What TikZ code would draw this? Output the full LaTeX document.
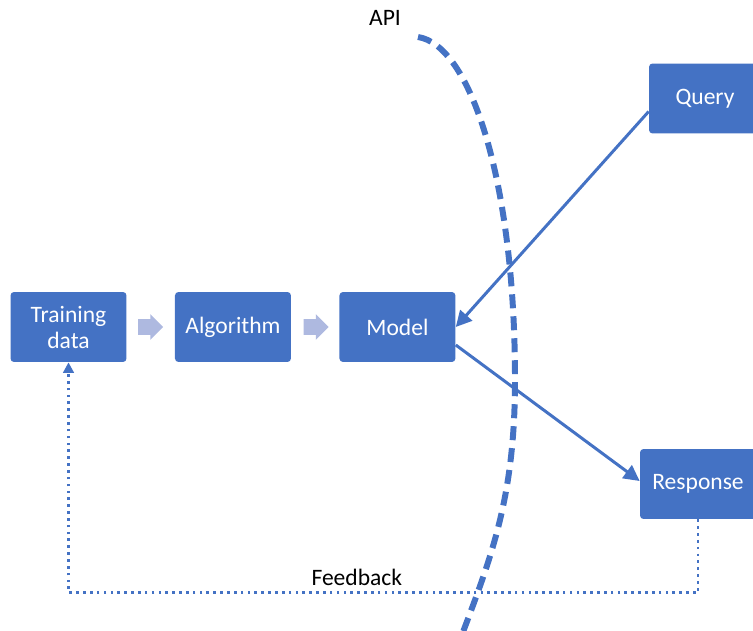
\documentclass[tikz,border=0pt]{standalone}
\usepackage{fontspec}
\setmainfont{Carlito}
\usepackage{tikz}
\usetikzlibrary{shapes,shapes.arrows,arrows.meta}
\usetikzlibrary{positioning}
\definecolor{boxblue}{HTML}{4472C4}
\definecolor{lavender}{HTML}{AEB9E0}
\tikzstyle{arrow} = [line width=1.7pt,draw=boxblue,-{Triangle[length=9pt,width=9pt]}]
\tikzstyle{feedback} = [line width=1.5pt,draw=boxblue,dash pattern=on 1.5pt off 2.4pt,
    -{Triangle[length=6pt,width=6pt]}]
\tikzstyle{api} = [line width=3.4pt,draw=boxblue,dash pattern=on 0.28cm off 0.16cm]
\tikzstyle{stage} = [
    rectangle, rounded corners=2pt, minimum width=2.32cm, minimum height=1.4cm,
    text centered, align=center, fill=boxblue, text=white,
    font=\fontsize{13.4}{14.8}\selectfont]
\tikzstyle{flow} = [
    single arrow, fill=lavender, inner xsep=0.12cm, inner ysep=0.15cm,
    minimum height=0.5cm, single arrow head extend=0.1cm]
\tikzstyle{label} = [font=\fontsize{13.4}{14.8}\selectfont, text=black]

\begin{document}
\begin{tikzpicture}[x=0.02cm,y=-0.02cm,node distance=3.29cm]
\useasboundingbox (0,0) rectangle (753,631);

\node (train) [stage] at (68.5,327) {Training\\data};
\node (alg) [stage, right of=train] {Algorithm};
\node (model) [stage, right of=alg] {Model};

\node (flow1) [flow, right=0.22cm of train] {};
\node (flow2) [flow, right=0.24cm of alg] {};

\node (query) [stage, minimum width=2.24cm] at (705,98.5) {Query};
\node (resp) [stage] at (698,484) {Response};

% API boundary
\node (apilabel) [label] at (385,18) {API};
\draw [api] (418,37) .. controls (470,45) and (515,180) .. (515,380)
    .. controls (515,500) and (490,560) .. (460,640);

\draw [arrow] ([yshift=-0.26cm]query.west) -- (model.east);
\draw [arrow] ([yshift=-0.36cm]model.east) -- ([yshift=0.06cm]resp.west);

\draw [feedback] (resp.south) -- ++(0,73) -| node[label, pos=0.271, above] {Feedback} (train.south);
\end{tikzpicture}
\end{document}
